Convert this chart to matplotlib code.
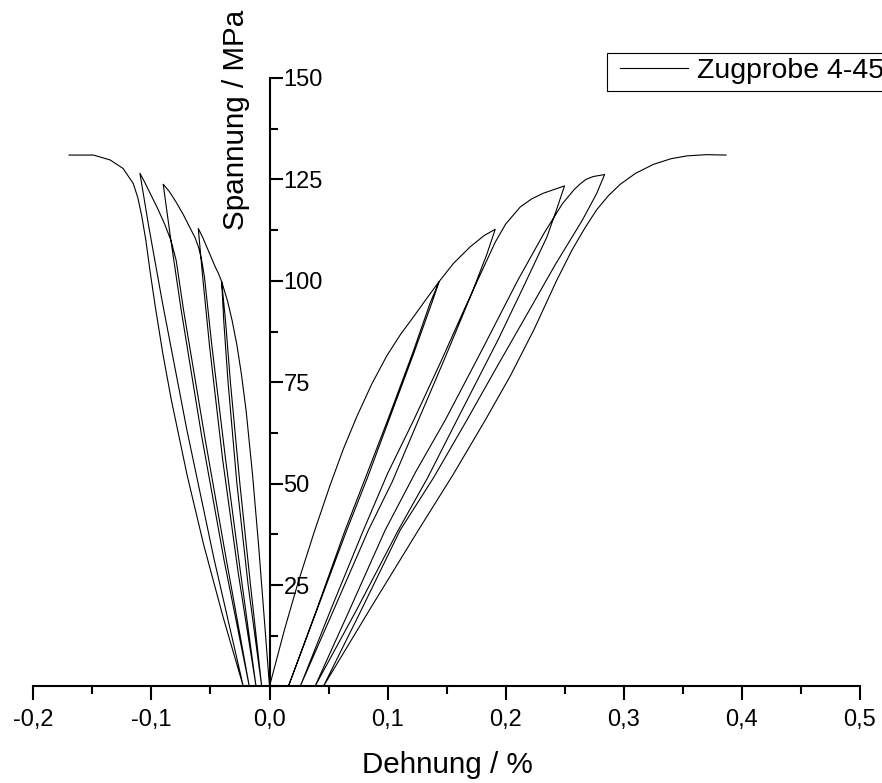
import matplotlib
matplotlib.use('Agg')
import matplotlib.pyplot as plt
import numpy as np
from matplotlib.ticker import MultipleLocator, FuncFormatter
from matplotlib.patches import Rectangle

plt.rcParams['font.family'] = ['Liberation Sans', 'DejaVu Sans']

# Laengsdehnung (rechts): Belastung / Entlastung / Wiederbelastung, (Dehnung %, Spannung MPa)
laengs_belast1 = [(0, 0), (0.0125, 13.8), (0.0244, 25.8), (0.038, 38.2), (0.0513, 49.6), (0.0625, 58.5),
                  (0.0739, 66.5), (0.0865, 74.5), (0.0993, 81.5), (0.111, 86.8), (0.1219, 91.1),
                  (0.133, 95.6), (0.1436, 99.8)]
laengs_entlast1 = [(0.1436, 99.8), (0.138, 95), (0.122, 82), (0.101, 65.6), (0.083, 51.5),
                   (0.0654, 38.5), (0.041, 19.5), (0.016, 0)]
laengs_wieder2 = [(0.016, 0), (0.040, 19), (0.064, 38.5), (0.082, 52), (0.100, 65.6), (0.121, 82),
                  (0.136, 94.5), (0.1436, 99.8), (0.1558, 104.3), (0.170, 108.4), (0.182, 111.2),
                  (0.1911, 112.7)]
laengs_entlast2 = [(0.1911, 112.7), (0.184, 106.5), (0.170, 96), (0.148, 80.6), (0.126, 65.6),
                   (0.104, 50.5), (0.0837, 38.5), (0.055, 19.3), (0.026, 0)]
laengs_wieder3 = [(0.026, 0), (0.052, 19), (0.0795, 38.5), (0.100, 52.5), (0.122, 65.6), (0.145, 80),
                  (0.165, 93), (0.180, 102.5), (0.1911, 109.5), (0.200, 114), (0.2123, 118.2),
                  (0.222, 120.2), (0.232, 121.6), (0.2498, 123.4)]
laengs_entlast3 = [(0.2498, 123.4), (0.243, 117.5), (0.2349, 110.8), (0.215, 98.5), (0.1936, 85.5),
                   (0.1586, 65.6), (0.134, 51.5), (0.109, 38.5), (0.074, 19), (0.0385, 0)]
laengs_wieder4 = [(0.0385, 0), (0.068, 19), (0.0979, 38.5), (0.124, 53), (0.1487, 65.6), (0.18, 83),
                  (0.210, 100), (0.232, 111.5), (0.248, 119), (0.258, 122.5), (0.2631, 123.9),
                  (0.268, 125), (0.274, 125.7), (0.2837, 126.2)]
laengs_entlast4 = [(0.2837, 126.2), (0.277, 121.5), (0.265, 115), (0.242, 104), (0.2205, 93),
                   (0.192, 78.5), (0.167, 65.6), (0.139, 51.5), (0.1106, 38.5), (0.078, 19), (0.0456, 0)]
laengs_wieder5 = [(0.0456, 0), (0.086, 19.5), (0.126, 38.5), (0.155, 52), (0.1826, 65.6), (0.204, 76.6),
                  (0.224, 88), (0.243, 100), (0.256, 107.5), (0.267, 113), (0.277, 117.5), (0.287, 121),
                  (0.297, 123.8), (0.31, 126.5), (0.325, 128.7), (0.34, 130.1), (0.3535, 130.8),
                  (0.37, 131.1), (0.3866, 131.0)]

# Querdehnung (links)
quer_belast1 = [(0, 0), (-0.0045, 17), (-0.0093, 35), (-0.0143, 52), (-0.0198, 68), (-0.0238, 77),
                (-0.0275, 84), (-0.0315, 90), (-0.0355, 95), (-0.0405, 99.8)]
quer_entlast1 = [(-0.0405, 99.8), (-0.0387, 90), (-0.0351, 75), (-0.0276, 50), (-0.0181, 25),
                 (-0.0066, 0)]
quer_wieder2 = [(-0.0066, 0), (-0.0161, 25), (-0.0251, 50), (-0.0331, 75), (-0.0372, 90),
                (-0.0405, 99.8), (-0.0432, 101.8), (-0.0462, 103.6), (-0.0497, 106), (-0.0532, 108.4),
                (-0.0567, 110.8), (-0.0603, 112.9)]
quer_entlast2 = [(-0.0603, 112.9), (-0.0566, 101), (-0.0508, 84), (-0.0397, 56), (-0.0265, 28),
                 (-0.0114, 0)]
quer_wieder3 = [(-0.0114, 0), (-0.0245, 28), (-0.0372, 56), (-0.0488, 84), (-0.0551, 101),
                (-0.0574, 105), (-0.0598, 108), (-0.0628, 110.5), (-0.0672, 113), (-0.0733, 116.5),
                (-0.0793, 119.5), (-0.0848, 122), (-0.090, 123.8)]
quer_entlast3 = [(-0.090, 123.8), (-0.084, 111), (-0.0749, 93), (-0.0576, 62), (-0.0384, 31),
                 (-0.0171, 0)]
quer_wieder4 = [(-0.0171, 0), (-0.0364, 31), (-0.0551, 62), (-0.0729, 93), (-0.079, 105),
                (-0.0835, 110), (-0.0888, 114), (-0.0950, 118), (-0.1018, 122), (-0.1060, 124.5),
                (-0.1097, 126.5)]
quer_entlast4 = [(-0.1097, 126.5), (-0.1026, 114), (-0.0909, 95), (-0.070, 63.3), (-0.0471, 31.6),
                 (-0.0222, 0)]
quer_wieder5 = [(-0.0222, 0), (-0.0392, 17), (-0.0558, 35), (-0.0697, 52), (-0.0831, 70.6),
                (-0.0903, 82), (-0.0967, 93.6), (-0.1012, 102.5), (-0.1047, 110), (-0.1082, 116),
                (-0.1115, 120.5), (-0.1154, 124), (-0.124, 127.7), (-0.135, 129.8), (-0.149, 131),
                (-0.1697, 131)]

x_ticks = [-0.2, -0.1, 0.0, 0.1, 0.2, 0.3, 0.4, 0.5]
y_ticks = [25, 50, 75, 100, 125, 150]

laengs = np.array(laengs_belast1 + laengs_entlast1 + laengs_wieder2 + laengs_entlast2 + laengs_wieder3
                  + laengs_entlast3 + laengs_wieder4 + laengs_entlast4 + laengs_wieder5)
quer = np.array(quer_belast1 + quer_entlast1 + quer_wieder2 + quer_entlast2 + quer_wieder3
                + quer_entlast3 + quer_wieder4 + quer_entlast4 + quer_wieder5)

fig = plt.figure(figsize=(8.82, 7.83), dpi=100)
ax = fig.add_axes([33.3/882, 1-686.4/783, (860-33.3)/882, (686.4-78)/783])

ax.plot(laengs[:, 0], laengs[:, 1], color='black', lw=0.8, label='Zugprobe 4-45')
ax.plot(quer[:, 0], quer[:, 1], color='black', lw=0.8)

ax.set_xlim(-0.2, 0.5)
ax.set_ylim(0, 150)

# Achsen: y-Achse bei Dehnung 0
ax.spines['left'].set_visible(False)
ax.spines['top'].set_visible(False)
ax.spines['right'].set_position(('data', 0))
ax.spines['right'].set_linewidth(1.5)
ax.spines['bottom'].set_linewidth(1.5)
ax.yaxis.tick_right()

ax.set_xticks(x_ticks)
ax.xaxis.set_minor_locator(MultipleLocator(0.05))
ax.xaxis.set_major_formatter(FuncFormatter(lambda v, p: ('%.1f' % v).replace('.', ',')))
ax.set_yticks(y_ticks)
ax.yaxis.set_minor_locator(MultipleLocator(12.5))

ax.tick_params(axis='x', which='major', direction='out', length=10, width=1.5, labelsize=17, pad=6)
ax.tick_params(axis='x', which='minor', direction='out', length=6, width=1.5)
ax.tick_params(axis='y', which='major', direction='out', length=9, width=1.5, labelsize=17, pad=1)
ax.tick_params(axis='y', which='minor', direction='out', length=6, width=1.5)

fig.text(447.5/882, 1-773/783, 'Dehnung / %', fontsize=21.3, ha='center', va='baseline')
fig.text(244/882, 1-120/783, 'Spannung / MPa', fontsize=21.3, rotation=90,
         ha='center', va='baseline', rotation_mode='anchor')

# Legende: Rahmen laeuft ueber den rechten Bildrand hinaus
fig.patches.append(Rectangle((606.7/882, 1-90.5/783), 320/882, 37.2/783, transform=fig.transFigure,
                             fill=False, edgecolor='black', linewidth=0.8))
leg = ax.legend(loc='center left', bbox_to_anchor=(620/882, 1-71/783),
                bbox_transform=fig.transFigure, fontsize=20.5, frameon=False,
                borderaxespad=0, borderpad=0, handlelength=2.4, handletextpad=0.32)

fig.savefig('out.png', dpi=100)
